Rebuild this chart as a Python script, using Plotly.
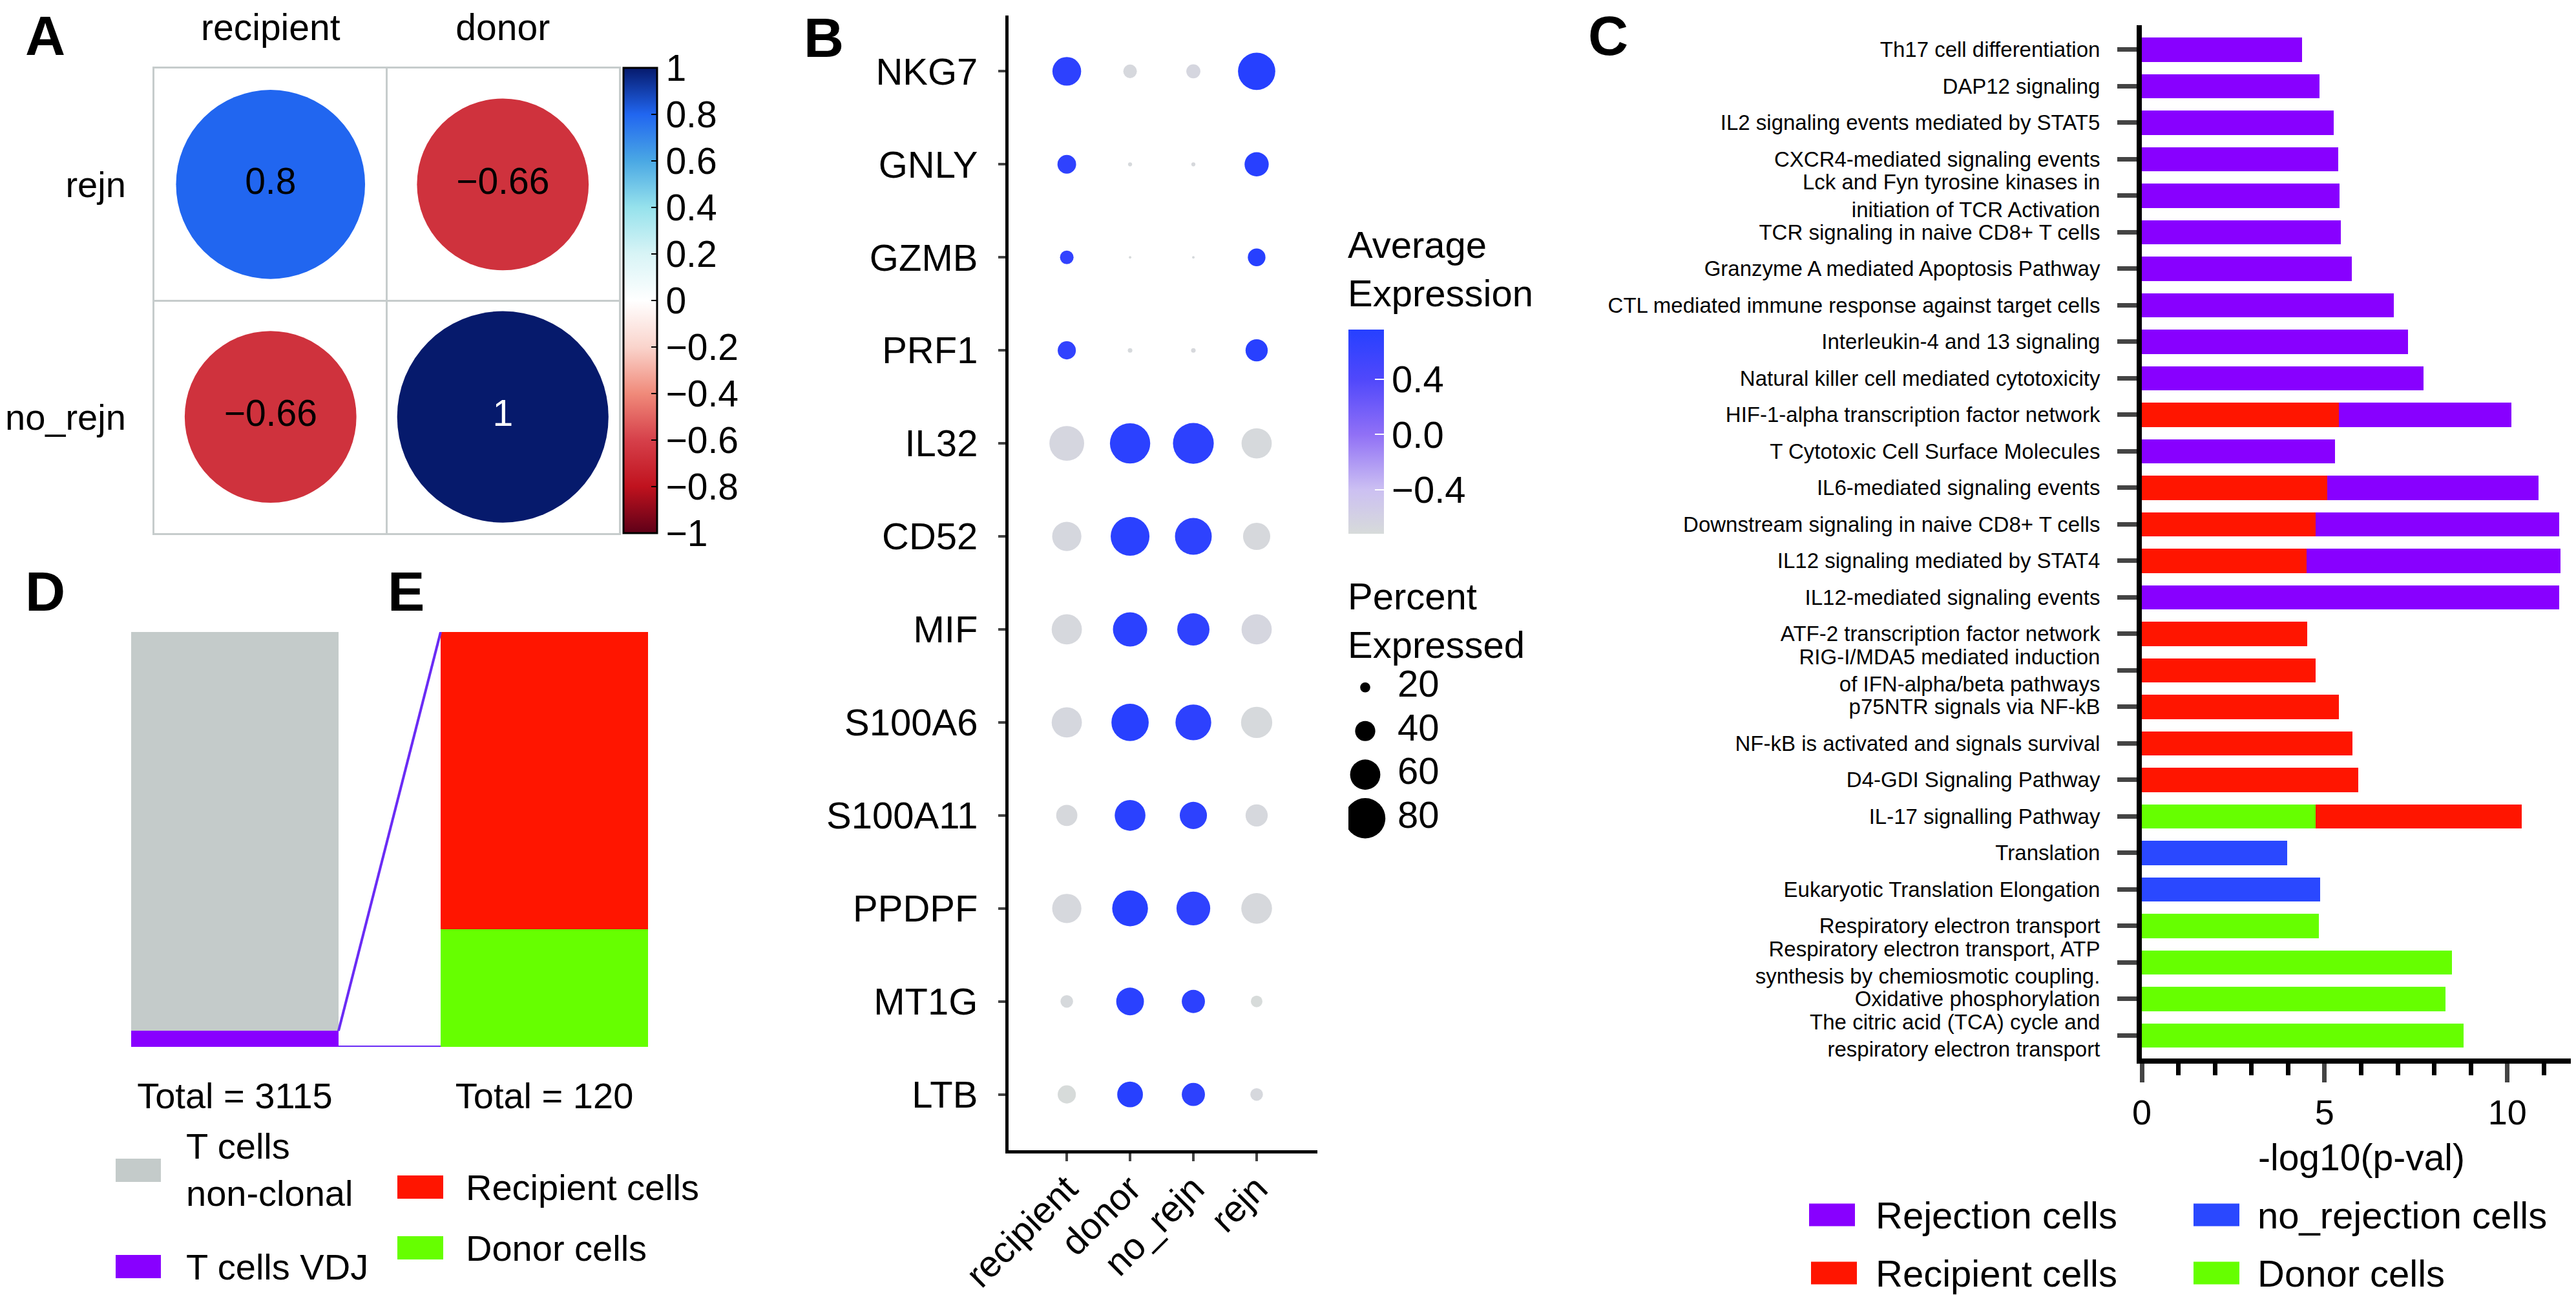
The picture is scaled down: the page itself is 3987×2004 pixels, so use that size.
import math
import plotly.graph_objects as go

W, H = 3987, 2004
FONT = "Liberation Sans, Arial, Helvetica, sans-serif"


def fx(p):
    return p / W


def fy(p):
    return 1 - p / H


# ---------------- data ----------------
# Panel A: correlation
cor_rows = ["rejn", "no_rejn"]
cor_cols = ["recipient", "donor"]
cor_vals = [[0.80, -0.66],
            [-0.66, 1.00]]
cor_ticks = [1, 0.8, 0.6, 0.4, 0.2, 0, -0.2, -0.4, -0.6, -0.8, -1]

# Panel B: dot plot
genes = ["NKG7", "GNLY", "GZMB", "PRF1", "IL32", "CD52", "MIF",
         "S100A6", "S100A11", "PPDPF", "MT1G", "LTB"]
groups = ["recipient", "donor", "no_rejn", "rejn"]
pct_expressed = [
    [57, 27, 28, 74],
    [37, 8, 8, 48],
    [27, 5, 5, 35],
    [36, 9, 9, 44],
    [69, 80, 81, 60],
    [58, 77, 73, 54],
    [60, 68, 64, 60],
    [60, 74, 71, 62],
    [42, 61, 54, 44],
    [58, 71, 67, 61],
    [25, 55, 46, 23],
    [36, 51, 46, 25],
]
avg_expression = [
    [0.70, -0.68, -0.66, 0.76],
    [0.68, -0.70, -0.69, 0.74],
    [0.66, -0.71, -0.70, 0.75],
    [0.67, -0.70, -0.69, 0.74],
    [-0.66, 0.72, 0.70, -0.70],
    [-0.67, 0.73, 0.69, -0.69],
    [-0.68, 0.72, 0.68, -0.66],
    [-0.67, 0.74, 0.70, -0.70],
    [-0.69, 0.73, 0.70, -0.68],
    [-0.68, 0.74, 0.68, -0.69],
    [-0.70, 0.73, 0.71, -0.72],
    [-0.72, 0.75, 0.70, -0.68],
]
avg_ticks = [-0.4, 0.0, 0.4]
size_levels = [20, 40, 60, 80]

# Panel C: pathway enrichment
pathways = [
    "Th17 cell differentiation",
    "DAP12 signaling",
    "IL2 signaling events mediated by STAT5",
    "CXCR4-mediated signaling events",
    "Lck and Fyn tyrosine kinases in<br>initiation of TCR Activation",
    "TCR signaling in naive CD8+ T cells",
    "Granzyme A mediated Apoptosis Pathway",
    "CTL mediated immune response against target cells",
    "Interleukin-4 and 13 signaling",
    "Natural killer cell mediated cytotoxicity",
    "HIF-1-alpha transcription factor network",
    "T Cytotoxic Cell Surface Molecules",
    "IL6-mediated signaling events",
    "Downstream signaling in naive CD8+ T cells",
    "IL12 signaling mediated by STAT4",
    "IL12-mediated signaling events",
    "ATF-2 transcription factor network",
    "RIG-I/MDA5 mediated induction<br>of IFN-alpha/beta pathways",
    "p75NTR signals via NF-kB",
    "NF-kB is activated and signals survival",
    "D4-GDI Signaling Pathway",
    "IL-17 signalling Pathway",
    "Translation",
    "Eukaryotic Translation Elongation",
    "Respiratory electron transport",
    "Respiratory electron transport, ATP<br>synthesis by chemiosmotic coupling.",
    "Oxidative phosphorylation",
    "The citric acid (TCA) cycle and<br>respiratory electron transport",
]
N = None
rejection_cells = [4.39, 4.86, 5.25, 5.38, 5.41, 5.45, 5.75, 6.90, 7.29, 7.71,
                   4.72, 5.29, 5.79, 6.67, 6.95, 11.42,
                   N, N, N, N, N, N, N, N, N, N, N, N]
recipient_cells = [N, N, N, N, N, N, N, N, N, N,
                   5.39, N, 5.07, 4.75, 4.50, N, 4.53, 4.75, 5.39, 5.77, 5.93, 5.64,
                   N, N, N, N, N, N]
donor_cells = [N] * 21 + [4.75, N, N, 4.84, 8.48, 8.30, 8.80]
no_rejection_cells = [N] * 22 + [3.98, 4.87] + [N] * 4
c_xticks = [0, 5, 10]

# Panels D / E: clonal composition
clonal_labels = ["T cells VDJ", "T cells non-clonal"]
clonal_counts = [120, 2995]
origin_labels = ["Donor cells", "Recipient cells"]
origin_counts = [34, 86]

# ---------------- styles ----------------
COL_REJ = "#8800FF"
COL_REC = "#FF1500"
COL_DON = "#66FF00"
COL_NOREJ = "#2A48FF"
COL_GREY = "#C4CBCA"
COL_LINK = "#6A2BF5"

cor_scale = [[0.0, "#5E0018"], [0.1, "#C0121E"], [0.2, "#D6404A"], [0.3, "#F08A7A"],
             [0.4, "#FAD4CC"], [0.5, "#FFFFFF"], [0.6, "#D8F4F6"], [0.7, "#96E2EC"],
             [0.8, "#4AA8E4"], [0.9, "#2166F0"], [1.0, "#061A6C"]]
avg_scale = [[0.0, "#D7DBDA"], [0.216, "#CCC0F2"], [0.486, "#9070F6"],
             [0.757, "#5048FB"], [1.0, "#2640FF"]]


def minus(s):
    return s.replace("-", "\u2212")


fig = go.Figure()

# ---------------- Panel A ----------------
A_L, A_R, A_T, A_B = 231, 950, 97.5, 817
cell_px = (A_R - A_L) / len(cor_cols)
ax_x, ax_y, ax_v, ax_s, ax_t, ax_c = [], [], [], [], [], []
for i, r in enumerate(cor_rows):
    for j, c in enumerate(cor_cols):
        v = cor_vals[i][j]
        ax_x.append(j)
        ax_y.append(i)
        ax_v.append(v)
        ax_s.append(0.91 * cell_px * math.sqrt(abs(v)))
        ax_t.append(minus(f"{v:g}"))
        ax_c.append("white" if abs(v) >= 0.95 else "black")

fig.add_trace(go.Scatter(
    x=ax_x, y=ax_y, mode="markers+text", text=ax_t,
    textfont=dict(size=57, color=ax_c, family=FONT),
    marker=dict(size=ax_s, sizemode="diameter", color=ax_v, colorscale=cor_scale,
                cmin=-1, cmax=1, line=dict(width=0), opacity=1,
                showscale=True,
                colorbar=dict(x=fx(957), xanchor="left", xpad=0,
                              y=fy((A_T + A_B) / 2), yanchor="middle", ypad=0,
                              len=A_B - A_T, lenmode="pixels",
                              thickness=52, thicknessmode="pixels",
                              outlinewidth=3, outlinecolor="black",
                              tickvals=cor_ticks, ticks="inside", ticklen=10,
                              tickwidth=2, tickcolor="black",
                              tickfont=dict(size=57, family=FONT, color="black"))),
    xaxis="x", yaxis="y", showlegend=False, hoverinfo="skip"))

# ---------------- Panel B ----------------
bx, by, bs, bc = [], [], [], []
for i, g in enumerate(genes):
    for j, grp in enumerate(groups):
        bx.append(grp)
        by.append(g)
        bs.append(0.78 * pct_expressed[i][j])
        bc.append(avg_expression[i][j])
B_CB_T, B_CB_B = 502, 818
fig.add_trace(go.Scatter(
    x=bx, y=by, mode="markers",
    marker=dict(size=bs, sizemode="diameter", color=bc, colorscale=avg_scale,
                cmin=min(bc), cmax=max(bc), line=dict(width=0), opacity=1,
                showscale=True,
                colorbar=dict(x=fx(2079), xanchor="left", xpad=0,
                              y=fy((B_CB_T + B_CB_B) / 2), yanchor="middle", ypad=0,
                              len=B_CB_B - B_CB_T, lenmode="pixels",
                              thickness=55, thicknessmode="pixels",
                              outlinewidth=0,
                              tickvals=avg_ticks,
                              ticktext=[minus(f"{t:.1f}") for t in avg_ticks],
                              ticks="inside", ticklen=14, tickwidth=2, tickcolor="white",
                              tickfont=dict(size=58, family=FONT, color="black"))),
    xaxis="x2", yaxis="y2", showlegend=False, hoverinfo="skip"))

# size legend
fig.add_trace(go.Scatter(
    x=[26] * len(size_levels), y=size_levels, mode="markers",
    marker=dict(size=[0.78 * s for s in size_levels], color="#000000", opacity=1,
                line=dict(width=0)),
    xaxis="x5", yaxis="y5", showlegend=False, hoverinfo="skip"))
fig.add_trace(go.Scatter(
    x=[76] * len(size_levels), y=size_levels, mode="text",
    text=[str(s) for s in size_levels], textposition="middle right",
    textfont=dict(size=58, family=FONT, color="black"),
    xaxis="x5", yaxis="y5", showlegend=False, hoverinfo="skip"))

# ---------------- Panel C ----------------
for vals, col, name in [(donor_cells, COL_DON, "Donor cells"),
                        (recipient_cells, COL_REC, "Recipient cells"),
                        (rejection_cells, COL_REJ, "Rejection cells"),
                        (no_rejection_cells, COL_NOREJ, "no_rejection cells")]:
    fig.add_trace(go.Bar(
        x=vals, y=pathways, orientation="h", width=0.66,
        marker=dict(color=col, line=dict(width=0)), name=name,
        xaxis="x3", yaxis="y3", showlegend=False, hoverinfo="skip"))

# ---------------- Panels D / E ----------------
BW = 0.67
panels_x = [0, 1]
clonal_total = sum(clonal_counts)
origin_total = sum(origin_counts)
for lab, cnt, col in zip(clonal_labels, clonal_counts, [COL_REJ, COL_GREY]):
    fig.add_trace(go.Bar(x=[panels_x[0]], y=[cnt / clonal_total * 100], width=BW,
                         marker=dict(color=col, line=dict(width=0)), name=lab,
                         xaxis="x4", yaxis="y4", showlegend=False, hoverinfo="skip"))
for lab, cnt, col in zip(origin_labels, origin_counts, [COL_DON, COL_REC]):
    fig.add_trace(go.Bar(x=[panels_x[1]], y=[cnt / origin_total * 100], width=BW,
                         marker=dict(color=col, line=dict(width=0)), name=lab,
                         xaxis="x4", yaxis="y4", showlegend=False, hoverinfo="skip"))
vdj_pct = clonal_counts[0] / clonal_total * 100
x_from = panels_x[0] + BW / 2
x_to = panels_x[1] - BW / 2
fig.add_trace(go.Scatter(x=[x_from, x_to], y=[vdj_pct, 100], mode="lines",
                         line=dict(color=COL_LINK, width=4),
                         xaxis="x4", yaxis="y4", showlegend=False, hoverinfo="skip"))
fig.add_trace(go.Scatter(x=[x_from, x_to], y=[0, 0], mode="lines",
                         line=dict(color=COL_LINK, width=4),
                         xaxis="x4", yaxis="y4", showlegend=False, hoverinfo="skip"))

# ---------------- layout ----------------
B_L, B_R, B_T, B_B = 1553, 2031, 16, 1772
C_L, C_R, C_T, C_B = 3307, 3987, 31, 1630

layout = dict(
    width=W, height=H, margin=dict(l=0, r=0, t=0, b=0, autoexpand=False),
    paper_bgcolor="white", plot_bgcolor="rgba(0,0,0,0)",
    font=dict(family=FONT, color="black"),
    barmode="stack", bargap=0, showlegend=False,
    # Panel A
    xaxis=dict(domain=[fx(A_L), fx(A_R)], range=[-0.5, len(cor_cols) - 0.5],
               anchor="y", side="top", tickvals=list(range(len(cor_cols))),
               ticktext=cor_cols, ticks="", showgrid=False, zeroline=False,
               showline=True, mirror=True, linecolor="#C6CCCC", linewidth=3,
               minor=dict(tick0=0.5, dtick=1, showgrid=True, gridcolor="#C6CCCC",
                          gridwidth=3, ticks=""),
               tickfont=dict(size=57), ticklabelstandoff=18, fixedrange=True,
               automargin=False),
    yaxis=dict(domain=[fy(A_B), fy(A_T)], range=[len(cor_rows) - 0.5, -0.5],
               anchor="x", tickvals=list(range(len(cor_rows))), ticktext=cor_rows,
               ticks="", showgrid=False, zeroline=False,
               showline=True, mirror=True, linecolor="#C6CCCC", linewidth=3,
               minor=dict(tick0=0.5, dtick=1, showgrid=True, gridcolor="#C6CCCC",
                          gridwidth=3, ticks=""),
               tickfont=dict(size=56), ticklabelstandoff=30, fixedrange=True,
               automargin=False),
    # Panel B
    xaxis2=dict(domain=[fx(B_L), fx(B_R)], anchor="y2", type="category",
                categoryorder="array", categoryarray=groups,
                range=[-0.92, 3.96], tickangle=-45, ticks="outside", ticklen=12,
                tickwidth=4, showline=True, linewidth=5, linecolor="black",
                showgrid=False, zeroline=False, tickfont=dict(size=57),
                ticklabelstandoff=-14, fixedrange=True, automargin=False),
    yaxis2=dict(domain=[fy(B_B), fy(B_T)], anchor="x2", type="category",
                categoryorder="array", categoryarray=genes,
                range=[len(genes) - 0.4, -0.6], ticks="outside", ticklen=11,
                tickwidth=4, showline=True, linewidth=5, linecolor="black",
                showgrid=False, zeroline=False, tickfont=dict(size=58),
                ticklabelstandoff=20, fixedrange=True, automargin=False),
    # Panel C
    xaxis3=dict(domain=[fx(C_L), fx(C_R)], anchor="y3", range=[0, 12.02],
                tickvals=c_xticks, ticks="outside", ticklen=29, tickwidth=7,
                minor=dict(dtick=1, tick0=0, ticks="outside", ticklen=18, tickwidth=7,
                           tickcolor="black", showgrid=False),
                showline=True, linewidth=8, linecolor="black", showgrid=False,
                zeroline=False, tickfont=dict(size=54),
                title=dict(text="-log10(p-val)", font=dict(size=57), standoff=24),
                fixedrange=True, automargin=False),
    yaxis3=dict(domain=[fy(C_B), fy(C_T)], anchor="x3", type="category",
                categoryorder="array", categoryarray=pathways,
                range=[len(pathways) - 1 + 0.63, -0.67], ticks="outside", ticklen=30,
                tickwidth=7, showline=True, linewidth=8, linecolor="black",
                showgrid=False, zeroline=False, tickfont=dict(size=33),
                ticklabelstandoff=20, fixedrange=True, automargin=False),
    # Panels D / E
    xaxis4=dict(domain=[fx(195), fx(995)], anchor="y4",
                range=[-0.5 + (1 - BW) / 2, 1.5 - (1 - BW) / 2],
                tickvals=panels_x,
                ticktext=[f"Total = {clonal_total}", f"Total = {origin_total}"],
                ticks="", showline=False, showgrid=False, zeroline=False,
                tickfont=dict(size=56), ticklabelstandoff=38, fixedrange=True,
                automargin=False),
    yaxis4=dict(domain=[fy(1612), fy(970)], anchor="x4", range=[0, 100],
                visible=False, fixedrange=True, automargin=False),
    # size legend axes
    xaxis5=dict(domain=[fx(2079), fx(2279)], anchor="y5", range=[0, 200],
                visible=False, fixedrange=True, automargin=False),
    yaxis5=dict(domain=[fy(1292), fy(1022)], anchor="x5", range=[90, 10],
                visible=False, fixedrange=True, automargin=False),
)
fig.update_layout(**layout)

# ---------------- annotations & legend keys ----------------
ann = []
shapes = []
for letter, (px, py) in {"A": (62, 47), "B": (1267, 50), "C": (2481, 47),
                         "D": (62, 907), "E": (620, 907)}.items():
    ann.append(dict(text=f"<b>{letter}</b>", x=fx(px), y=fy(py), xref="paper", yref="paper",
                    xanchor="center", yanchor="middle", showarrow=False,
                    font=dict(size=86, family=FONT, color="black")))

ann.append(dict(text="Average<br>Expression", x=fx(2076), y=fy(408), xref="paper",
                yref="paper", xanchor="left", yanchor="middle", align="left",
                showarrow=False, font=dict(size=58, family=FONT)))
ann.append(dict(text="Percent<br>Expressed", x=fx(2076), y=fy(952), xref="paper",
                yref="paper", xanchor="left", yanchor="middle", align="left",
                showarrow=False, font=dict(size=58, family=FONT)))


def legend_item(x0, cy, w, h, color, text, tx, size):
    shapes.append(dict(type="rect", xref="paper", yref="paper",
                       x0=fx(x0), x1=fx(x0 + w), y0=fy(cy + h / 2), y1=fy(cy - h / 2),
                       fillcolor=color, line=dict(width=0)))
    ann.append(dict(text=text, x=fx(tx), y=fy(cy), xref="paper", yref="paper",
                    xanchor="left", yanchor="middle", align="left", showarrow=False,
                    font=dict(size=size, family=FONT, color="black")))


# Panel C legend
legend_item(2792, 1872, 71, 35, COL_REJ, "Rejection cells", 2893, 58)
legend_item(3387, 1872, 71, 35, COL_NOREJ, "no_rejection cells", 3484, 58)
legend_item(2795, 1962, 71, 35, COL_REC, "Recipient cells", 2893, 58)
legend_item(3387, 1962, 71, 35, COL_DON, "Donor cells", 3484, 58)

# Panels D/E legend
shapes.append(dict(type="rect", xref="paper", yref="paper", x0=fx(171), x1=fx(241),
                   y0=fy(1821), y1=fy(1785), fillcolor=COL_GREY, line=dict(width=0)))
ann.append(dict(text="T cells<br>non-clonal", x=fx(278), y=fy(1802), xref="paper",
                yref="paper", xanchor="left", yanchor="middle", align="left",
                showarrow=False, font=dict(size=56, family=FONT)))
legend_item(171, 1952, 70, 36, COL_REJ, "T cells VDJ", 278, 56)
legend_item(607, 1829, 71, 36, COL_REC, "Recipient cells", 711, 56)
legend_item(607, 1923, 71, 36, COL_DON, "Donor cells", 711, 56)

fig.update_layout(annotations=ann, shapes=shapes)

fig.write_html("out.html")
